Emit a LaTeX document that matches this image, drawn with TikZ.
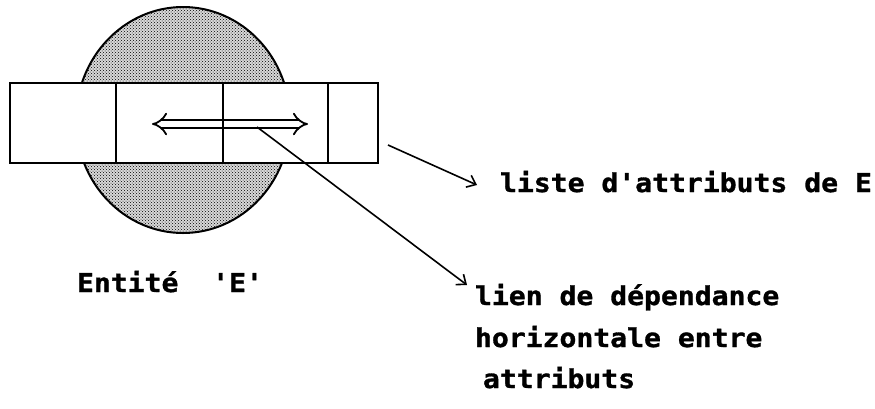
\documentclass[tikz,border=0pt]{standalone}
\usepackage{fontspec}
\newfontfamily\pixfont{DejaVu Sans Mono}[FakeStretch=1.08, FakeBold=1.2]
\usetikzlibrary{arrows.meta,positioning,patterns,shapes.geometric}

\begin{document}
\begin{tikzpicture}[x=1pt, y=-1pt, >={Straight Barb[length=8pt,width=13pt]}, line width=2pt]
	\tikzstyle{every node}=[inner sep=0pt, outer sep=0pt]
	\tikzstyle{txt}=[anchor=base west, font=\fontsize{26}{26}\selectfont\pixfont\bfseries]
	\tikzstyle{conn}=[->, line width=1.6pt]
	\useasboundingbox (0,0) rectangle (875,408);
	
	\node[ellipse, draw, preaction={fill=gray!30}, pattern=crosshatch dots, minimum width=214, minimum height=226] (E) at (183,120) {};
	\node[draw, fill=white, minimum width=368, minimum height=80] (L) at (194,123) {};
	
	\draw[line width=1.8pt, double distance=6pt, {Implies}-{Implies}] (152,124) -- (308,124);
	
	\draw (116,83) -- (116,163);
	\draw (223,83) -- (223,163);
	\draw (328,83) -- (328,163);
	
	\node[txt] (T1) at (500,192) {liste d'attributs de E};
	\node[txt] (T2) at (475,305) {lien de dépendance};
	\node[txt] (T3) at (475,347) {horizontale entre};
	\node[txt] (T4) at (483,388) {attributs};
	\node[txt] (T5) at (77,292)  {Entité\ \ 'E'};
	
	\coordinate (a1) at (388,145);
	\coordinate (t1) at (477,185);
	\coordinate (a2) at (257,127);
	\coordinate (t2) at (467,285);
	
	\draw[conn] (a1) -- (t1);
	\draw[conn] (a2) -- (t2);
\end{tikzpicture}
\end{document}
